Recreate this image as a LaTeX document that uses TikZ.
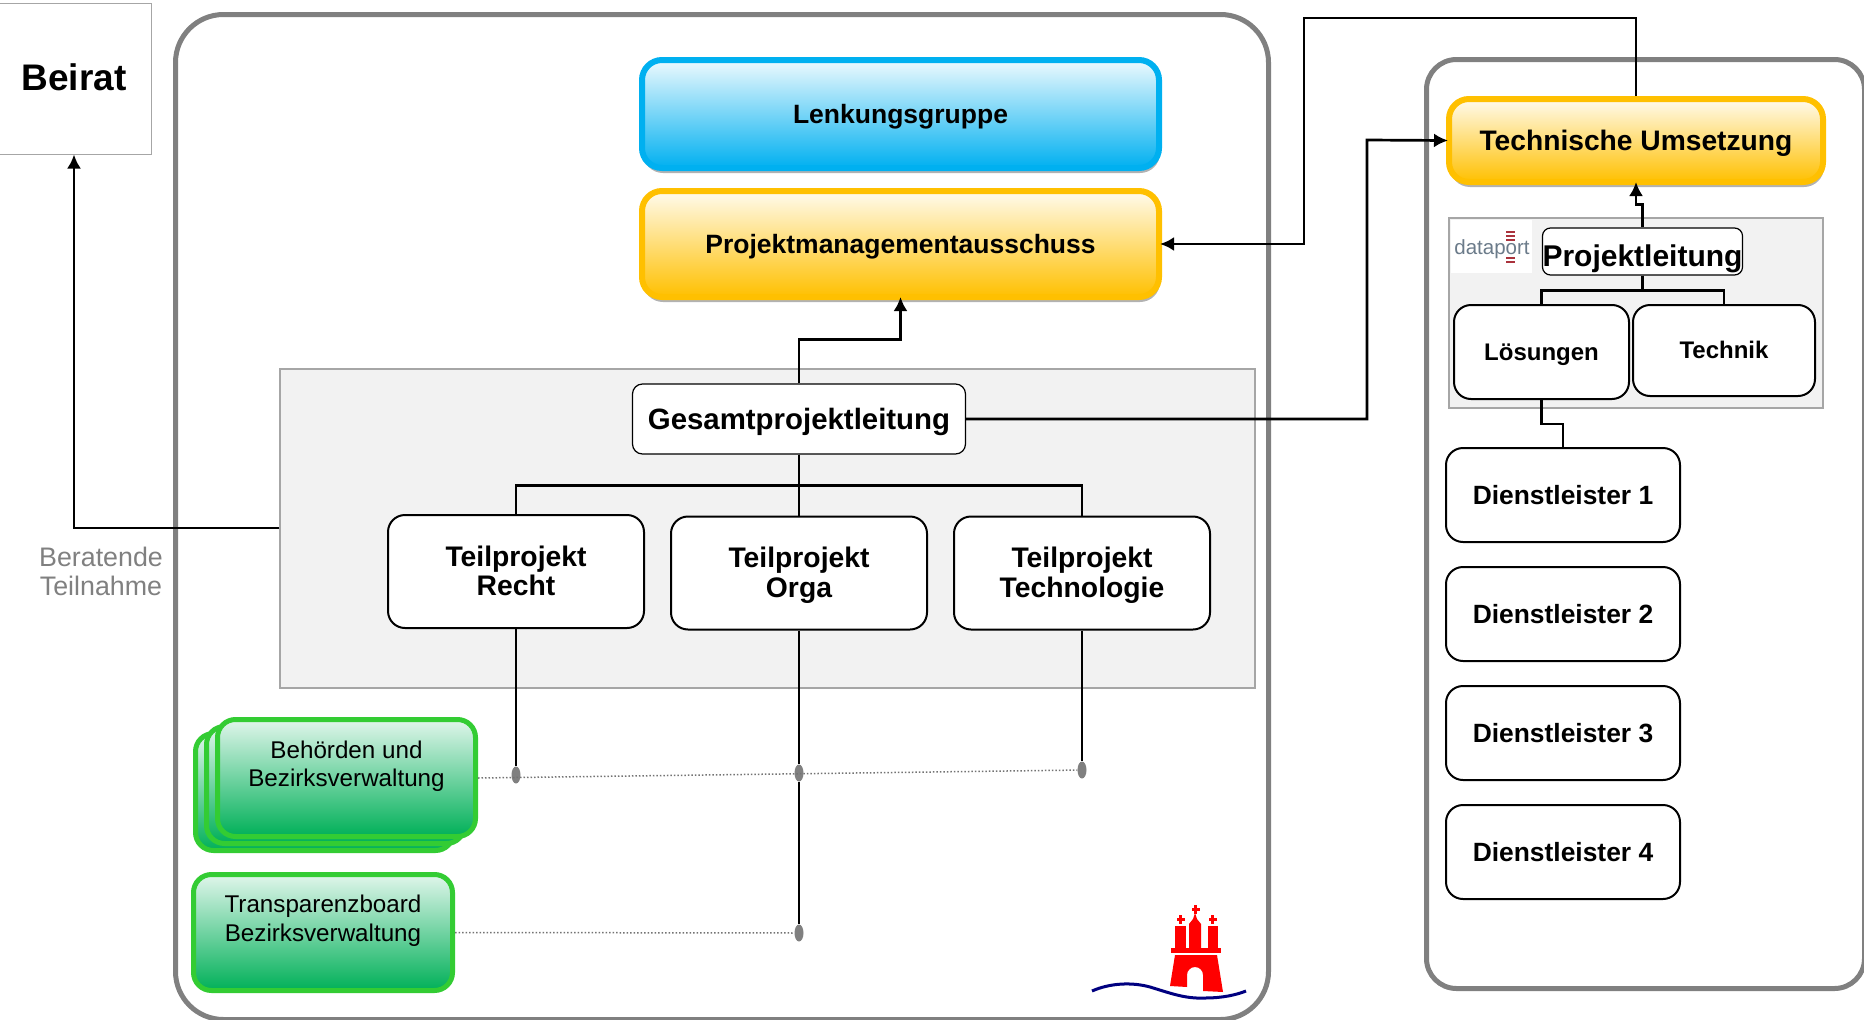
\documentclass[tikz,border=0pt]{standalone}
\usepackage{fontspec}
\setmainfont{Liberation Sans}
\usepackage{tikz}
\usetikzlibrary{positioning,arrows.meta,shadows,shapes.geometric}
\definecolor{colorframe}  {RGB}{128,128,128}
\definecolor{colorgroup}  {RGB}{242,242,242}
\definecolor{colorblue}   {RGB}{  0,176,240}
\definecolor{colororange} {RGB}{255,192,  0}
\definecolor{colorgreen}  {RGB}{ 51,204, 51}
\definecolor{colorgreenb} {RGB}{  0,176, 88}
\definecolor{colorwave}   {RGB}{  0,  0,128}
\definecolor{colordata}   {RGB}{107,123,138}
\definecolor{colordatared}{RGB}{170, 50, 60}

\begin{document}
\begin{tikzpicture}[
    x=1pt, y=-1pt,
    node distance = 27pt, auto,
    frame/.style={draw=colorframe,line width=5pt,rounded corners=48pt,anchor=north west,inner sep=0pt},
    group/.style={draw=black!35,fill=colorgroup,line width=1.2pt,inner sep=0pt},
    base/.style={draw=black,fill=white,line width=2pt,rounded corners=17pt,align=center,inner sep=0pt,text depth=0pt,font={\fontsize{26.4}{29}\selectfont\bfseries}},
    teil/.style={base,minimum width=256pt,minimum height=113pt,text depth=2pt,font={\fontsize{28.3}{29.5}\selectfont\bfseries}},
    dienst/.style={base,minimum width=234pt,minimum height=94pt},
    small/.style={base,font={\fontsize{24}{28}\selectfont\bfseries}},
    glossy/.style={line width=6pt,rounded corners=20pt,align=center,inner sep=0pt,text depth=0pt,drop shadow={shadow xshift=1pt,shadow yshift=-5pt,opacity=0.3,fill=black},font={\fontsize{26.5}{29}\selectfont\bfseries}},
    bluebox/.style={glossy,draw=colorblue,top color=colorblue!7,bottom color=colorblue},
    orangebox/.style={glossy,draw=colororange,top color=colororange!7,bottom color=colororange},
    greenbox/.style={draw=colorgreen,line width=5pt,rounded corners=18pt,align=center,inner sep=0pt,top color=colorgreenb!12,bottom color=colorgreenb,font={\fontsize{24.2}{28.5}\selectfont}},
    link/.style={draw=black,line width=2.7pt,>={Latex[length=14pt,width=14pt]}},
    thin link/.style={draw=black,line width=1.6pt},
    dots/.style={draw=black!55,line width=1.5pt,dotted},
    joint/.style={ellipse,fill=colorframe,inner sep=0pt,minimum width=9pt,minimum height=17pt},
]

    \useasboundingbox (0,0) rectangle (1864,1020);

    \node[frame,minimum width=1093pt,minimum height=1005pt] (mainframe)  at (173,12) {};
    \node[frame,rounded corners=30pt,minimum width=438pt,minimum height=929pt] (techframe) at (1424,57) {};

    \node[draw=black!35,fill=white,line width=1pt,minimum width=153pt,minimum height=151pt,inner sep=0pt] (beirat) at (75,78.5) {};
    \node[font={\fontsize{37}{40}\selectfont\bfseries},inner sep=0pt] (beirattext) at (74,77) {Beirat};

    \node[bluebox,minimum width=517pt,minimum height=108pt]   (lenkung) at (900.5,114) {Lenkungsgruppe};
    \node[orangebox,minimum width=517pt,minimum height=106pt] (pma)     at (900.5,244) {Projektmanagementausschuss};

    \node[group,minimum width=975pt,minimum height=319pt] (projektgroup) at (767.5,528.5) {};

    \node[base,rounded corners=10pt,line width=1.2pt,minimum width=333pt,minimum height=70pt,font={\fontsize{29.4}{32}\selectfont\bfseries}] (gesamt) at (799,419) {Gesamtprojektleitung};

    \node[teil]                                 (recht)       at (516,571.5) {Teilprojekt\\Recht};
    \node[teil,right=25pt of recht,yshift=-1.5pt] (orga)        {Teilprojekt\\Orga};
    \node[teil,right=25pt of orga]              (technologie) {Teilprojekt\\Technologie};

    \node[greenbox,minimum width=258pt,minimum height=117pt] (behoerdenback) at (324.5,792) {};
    \node[greenbox,minimum width=258pt,minimum height=117pt] (behoerdenmid)  at (335.5,785) {};
    \node[greenbox,minimum width=258pt,minimum height=117pt] (behoerden)     at (346.5,778) {Behörden und\\Bezirksverwaltung\\\mbox{}};
    \node[greenbox,minimum width=259pt,minimum height=116pt] (transparenz)   at (323,932.5) {Transparenzboard\\Bezirksverwaltung\\\mbox{}};

    \node[joint] (jointrecht) at (516,775) {};
    \node[joint] (jointorga)  at (799,773) {};
    \node[joint] (jointtech)  at (1082,770) {};
    \node[joint] (jointboard) at (799,933) {};

    \node[orangebox,minimum width=374pt,minimum height=83pt,font={\fontsize{28.2}{31}\selectfont\bfseries}] (umsetzung) at (1636,140.5) {Technische Umsetzung};

    \node[group,minimum width=374pt,minimum height=190pt] (datagroup) at (1636,313) {};
    \node[fill=white,minimum width=81pt,minimum height=53pt,inner sep=0pt] (logobox) at (1491.5,246.5) {};
    \node[text=colordata,inner sep=0pt,font={\fontsize{20.5}{22}\selectfont}] (logotext) at (1492,249) {dataport};
    \foreach \bary in {232,236,240,258,262}
        \fill[colordatared] (1506,\bary-1.2) rectangle (1515,\bary+1.2);

    \node[base,rounded corners=8pt,line width=1.2pt,minimum width=198pt,minimum height=47pt,text height=29pt,text depth=0pt,font={\fontsize{30}{32}\selectfont\bfseries}] (leitung) at (1642.5,251.5) {Projektleitung};
    \node[small,minimum width=175pt,minimum height=94pt] (loesungen) at (1541.5,352) {Lösungen};
    \node[small,minimum width=182pt,minimum height=91pt,text depth=2pt] (technik)   at (1724,350.5) {Technik};

    \node[dienst]                       (dienst1) at (1563,495) {Dienstleister 1};
    \node[dienst,below=23pt of dienst1] (dienst2) {Dienstleister 2};
    \node[dienst,below=23pt of dienst2] (dienst3) {Dienstleister 3};
    \node[dienst,below=23pt of dienst3] (dienst4) {Dienstleister 4};

    \node[text=colorframe,align=center,inner sep=0pt,font={\fontsize{26.8}{29}\selectfont}] (beratend) at (101,571) {Beratende\\Teilnahme};

    \draw[link,->](projektgroup.west |- 0,528) -| (beirat.south -| beirattext.south);
    \draw[link,->,shorten >=-3pt](gesamt.north) -- ++(0,-44) -| (pma.south);
    \draw[link,->,shorten >=-2pt](gesamt.east) -| (1367,140) -- (umsetzung.west);
    \draw[link,->,shorten >=-2pt](umsetzung.north) -- ++(0,-78) -| (1304,244) -- (pma.east);

    \draw[link](gesamt.south) -- (orga.north);
    \draw[link](gesamt.south) -- ++(0,31) -| (recht.north);
    \draw[link](gesamt.south) -- ++(0,31) -| (technologie.north);

    \draw[thin link](recht.south) -- (jointrecht);
    \draw[thin link](orga.south) -- (jointorga);
    \draw[thin link](jointorga) -- (jointboard);
    \draw[thin link](technologie.south) -- (jointtech);

    \draw[dots](behoerden.east) -- (jointtech);
    \draw[dots](transparenz.east) -- (jointboard);

    \draw[link,->,shorten >=-3pt](leitung.north) -- ++(0,-23) -| (umsetzung.south);
    \draw[link](leitung.south) -- ++(0,15) -| (loesungen.north);
    \draw[link](leitung.south) -- ++(0,15) -| (technik.north);
    \draw[link](loesungen.south) -- ++(0,24) -| (dienst1.north);

    \draw[colorwave,line width=3pt] (1092,991) .. controls (1110,983) and (1132,982) .. (1150,987) .. controls (1170,993) and (1185,999) .. (1205,998) .. controls (1222,998) and (1236,995) .. (1246,991);
    \fill[red] (1175,955) -- (1217,955) -- (1223,992) -- (1203,991) -- (1203,975) arc[start angle=0,end angle=-180,radius=8] -- (1187,987) -- (1170,986) -- cycle;
    \fill[red] (1171,948) rectangle (1221,953);
    \fill[red] (1175,926) rectangle (1186,948);
    \fill[red] (1208,926) rectangle (1218,948);
    \fill[red] (1189,948) -- (1189,924) -- (1193,919) -- (1195,913) -- (1197,919) -- (1201,924) -- (1201,948) -- cycle;
    \foreach \crossx/\crossy in {1195.5/909,1180.5/919,1212.5/919}{
        \fill[red] (\crossx-4,\crossy-1.5) rectangle (\crossx+4,\crossy+1.5);
        \fill[red] (\crossx-1.5,\crossy-4.5) rectangle (\crossx+1.5,\crossy+4.5);
    }

\end{tikzpicture}
\end{document}
